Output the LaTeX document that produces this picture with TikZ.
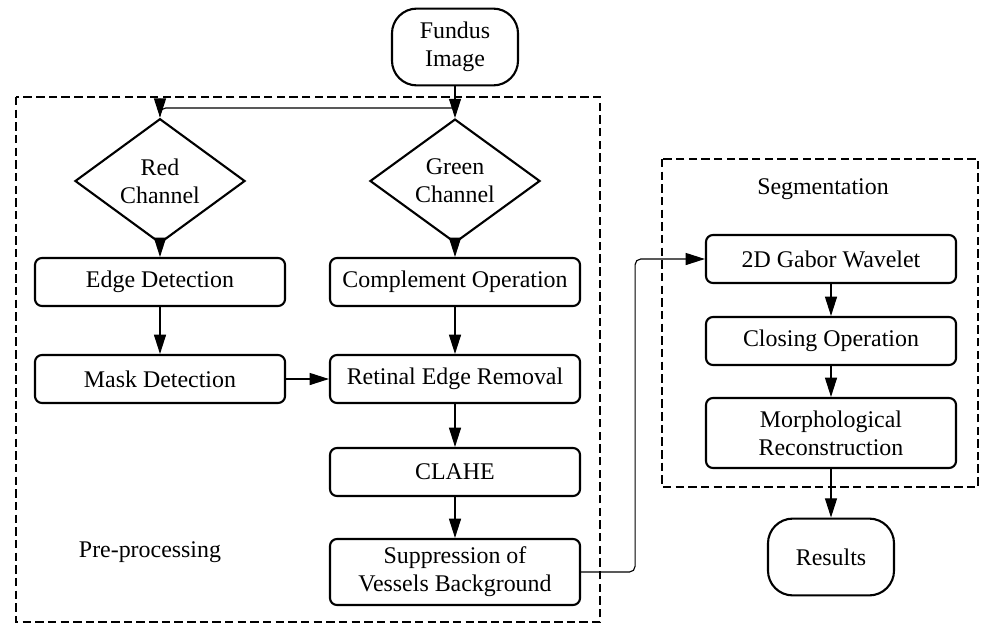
\documentclass[tikz,border=0pt]{standalone}
\usepackage{fontspec}
\setmainfont{Liberation Serif}
\usetikzlibrary{arrows.meta,shapes.geometric}

\tikzset{
  box/.style={draw, line width=1.5pt, rounded corners=5pt, minimum width=6.25cm, minimum height=1.2cm, align=center, inner sep=2pt},
  term/.style={draw, line width=1.5pt, rounded corners=0.62cm, minimum width=3.15cm, minimum height=1.92cm, align=center},
  chan/.style={draw, line width=1.5pt, diamond, minimum width=4.25cm, minimum height=2.1cm, inner sep=0pt, align=center},
  conn/.style={-{Triangle[length=0.48cm,width=0.3cm]}, thick},
  frame/.style={dash pattern=on 6pt off 3pt, thick}
}

\begin{document}
\begin{tikzpicture}[x=0.025cm, y=-0.025cm, every node/.style={font=\fontsize{17}{20}\selectfont}]
  \useasboundingbox (0,0) rectangle (992,626);

  % dashed frames
  \draw[frame] (16,97) rectangle (600,622);
  \draw[frame] (662,159) rectangle (978,487);
  \node (pretitle) at (150,552) {Pre-processing};
  \node (segtitle) at (823,189) {Segmentation};

  % nodes
  \node[term] (fundus) at (455,47) {Fundus\\Image};
  \node[chan] (red) at (160,181) {Red\\Channel};
  \node[chan] (green) at (455,181) {Green\\Channel};
  \node[box] (edge) at (160,282) {Edge Detection};
  \node[box] (complement) at (455,282) {Complement Operation};
  \node[box] (mask) at (160,379) {Mask Detection};
  \node[box] (retinal) at (455,379) {Retinal Edge Removal};
  \node[box] (clahe) at (455,472) {CLAHE};
  \node[box, minimum height=1.65cm] (suppress) at (455,572) {Suppression of\\Vessels Background};
  \node[box] (gabor) at (831,259) {2D Gabor Wavelet};
  \node[box] (closing) at (831,341) {Closing Operation};
  \node[box, minimum height=1.75cm] (morph) at (831,433) {Morphological\\Reconstruction};
  \node[term] (results) at (831,557) {Results};

  % connectors
  \coordinate (split) at (455,108);
  \draw[thick] (fundus.south) -- (split);
  \draw[conn] (split) -- (green.north);
  \draw[conn, rounded corners=4pt] (split) -| (red.north);
  \draw[conn] (red.south) -- (edge.north);
  \draw[conn] (green.south) -- (complement.north);
  \draw[conn] (edge) -- (mask);
  \draw[conn] (complement) -- (retinal);
  \draw[conn] (mask) -- (retinal);
  \draw[conn] (retinal) -- (clahe);
  \draw[conn] (clahe) -- (suppress);
  \draw[conn, rounded corners=4pt] (suppress.east) -- ++(54,0) |- (gabor.west);
  \draw[conn] (gabor) -- (closing);
  \draw[conn] (closing) -- (morph);
  \draw[conn] (morph) -- (results);
\end{tikzpicture}
\end{document}
